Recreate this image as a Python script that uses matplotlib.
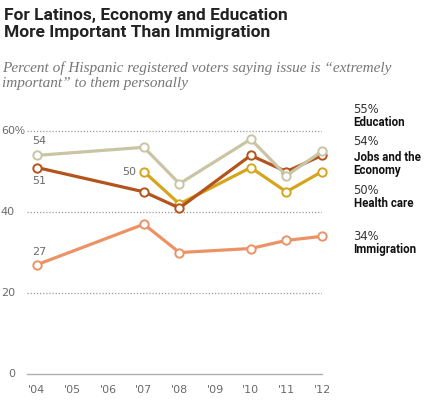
"""
Pew-style line chart: issues Hispanic registered voters call "extremely important"
"""

import matplotlib
matplotlib.use("Agg")
from matplotlib import pyplot as plt
from matplotlib.lines import Line2D

# --- data ---
years = [2004, 2007, 2008, 2010, 2011, 2012]
education = [54, 56, 47, 58, 49, 55]
jobs = [51, 45, 41, 54, 50, 54]
health_years = [2007, 2008, 2010, 2011, 2012]
health = [50, 42, 51, 45, 50]
immigration = [27, 37, 30, 31, 33, 34]

tick_years = list(range(2004, 2013))
tick_labels = ["'04", "'05", "'06", "'07", "'08", "'09", "'10", "'11", "'12"]
y_ticks = [0, 20, 40, 60]

c_edu = "#C9C4A4"
c_jobs = "#B4541C"
c_health = "#D6A51E"
c_imm = "#EB9366"
grey = "#6b6b6b"

W, H = 440, 401
fig = plt.figure(figsize=(W / 100, H / 100), dpi=100)
ax = fig.add_axes([27 / W, 1 - 374 / H, 295 / W, (374 - 123) / H])
ax.set_xlim(2003.72, 2012)
ax.set_ylim(0, 62)
for s in ax.spines.values():
    s.set_visible(False)
ax.set_xticks([])
ax.set_yticks([])

# gridlines + baseline
for v in y_ticks[1:]:
    ax.axhline(v, color="#9a9a9a", lw=0.9, ls=(0, (1, 1.5)), zorder=0)
ax.axhline(0, color="#b0b0b0", lw=1.0, zorder=0, clip_on=False)


def px(x, y, dx=0, dy=0):
    # data point -> display pixel, offsets in pixels (dy positive = downward)
    X, Y = ax.transData.transform((x, y))
    return X + dx, Y - dy


for yr, lab in zip(tick_years, tick_labels):
    x0, y0 = px(yr, 0)
    fig.add_artist(Line2D([x0, x0], [y0, y0 - 5], color="#b0b0b0", lw=1.0))
    fig.text(x0 / W, (y0 - 16) / H, lab, ha="center", va="center",
             fontsize=8, color=grey, family="DejaVu Sans")

for v in y_ticks:
    _, y0 = px(2004, v)
    fig.text(15 / W, y0 / H, str(v), ha="right", va="center",
             fontsize=8, color=grey, family="DejaVu Sans")
    if v == 60:
        fig.text(15 / W, y0 / H, "%", ha="left", va="center",
                 fontsize=8, color=grey, family="Liberation Sans")

series = [
    (years, immigration, c_imm),
    (health_years, health, c_health),
    (years, jobs, c_jobs),
    (years, education, c_edu),
]
for z, (xs, ys, c) in enumerate(series):
    ax.plot(xs, ys, color=c, lw=2.3, marker="o", ms=6, mfc="white",
            mec=c, mew=1.4, clip_on=False, zorder=3 + z)

# point labels
def note(x, y, text, dx, dy, ha="left"):
    X, Y = px(x, y, dx, dy)
    fig.text(X / W, Y / H, text, ha=ha, va="center", fontsize=8,
             color=grey, family="DejaVu Sans")

note(years[0], education[0], str(education[0]), -5, -14.5)
note(years[0], jobs[0], str(jobs[0]), -5, 13.5)
note(health_years[0], health[0], str(health[0]), -8, 0, ha="right")
note(years[0], immigration[0], str(immigration[0]), -5, -13)

# right-hand labels with elbow connectors
labels = [
    # x, value, pct, name lines, dot dy, elbow dy, pct offset, name offset
    (years[-1], education[-1], "55%", ["Education"], -2, -27, -12.5, 0),
    (years[-1], jobs[-1], "54%", ["Jobs and the", "Economy"], 0.7, 0, -15, 1),
    (health_years[-1], health[-1], "50%", ["Health care"], 0, 32, -13, 0),
    (years[-1], immigration[-1], "34%", ["Immigration"], 0.4, 0, 0, 13),
]
for x, v, pct, names, ddy, edy, pdy, ndy in labels:
    X, Y = px(x, v, 7.5, ddy)
    fig.add_artist(Line2D([X], [Y], marker="o", ms=2.2, color="#222", lw=0))
    ye = Y - edy
    if edy:
        xs = [X + 1, X + 12.5, X + 12.5, X + 22]
        ys = [Y, Y, ye, ye]
    else:
        xs = [X + 1, X + 21]
        ys = [Y, Y]
    fig.add_artist(Line2D(xs, ys, color="#aaaaaa", lw=1.2))
    tx = X + 24
    fig.text(tx / W, (ye - pdy) / H, pct, ha="left", va="center",
             fontsize=8.3, color="#333333", family="DejaVu Sans")
    for i, nm in enumerate(names):
        fig.text(tx / W, (ye - ndy - 13.5 * i) / H, nm, ha="left", va="center",
                 fontsize=8.3, color="#111111", family="Roboto", weight="bold")

fig.text(4 / W, 1 - 8 / H, "For Latinos, Economy and Education\nMore Important Than Immigration",
         ha="left", va="top", fontsize=12.5, weight="bold", color="#222222",
         family="Roboto", linespacing=1.15)
fig.text(2 / W, 1 - 61 / H,
         "Percent of Hispanic registered voters saying issue is \u201cextremely\nimportant\u201d to them personally",
         ha="left", va="top", fontsize=11, style="italic", color="#777777",
         family="Liberation Serif", linespacing=1.25)

fig.savefig("out.png", dpi=100)
